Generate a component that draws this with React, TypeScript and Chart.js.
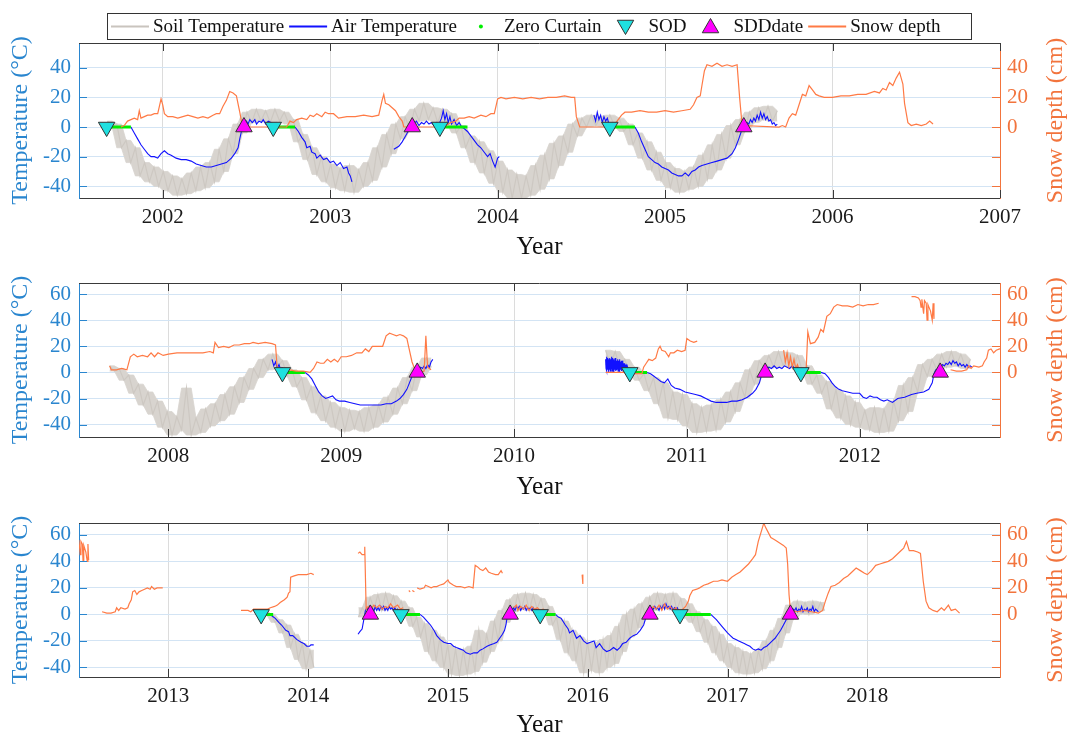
import React, { useEffect, useRef } from "react";
import { Chart, registerables } from "chart.js";

Chart.register(...registerables);

type Pair = [number, number] | null;
type Pt = { x: number; y: number | null };
type SoilSeg = { start: number; values: number[] };

const FONT = "'Liberation Serif', 'Times New Roman', Times, serif";
const BLUE_AXIS = "#2a86cf";
const ORANGE_AXIS = "#f2743d";
const SOIL_COLOR = "#cdc8c2";
const SOIL_FILL = "#d8d4cf";
const AIR_COLOR = "#1111ff";
const ZERO_COLOR = "#00ee00";
const SNOW_COLOR = "#ff7a45";
const SOD_COLOR = "#1fe0e0";
const SDD_COLOR = "#ff00ff";
const FRAME = "#3a3a3a";

// ---------------- tick labels ----------------
const years1 = [2002, 2003, 2004, 2005, 2006, 2007];
const years2 = [2008, 2009, 2010, 2011, 2012];
const years3 = [2013, 2014, 2015, 2016, 2017, 2018];
const tempTicks1 = [-40, -20, 0, 20, 40];
const tempTicks23 = [-40, -20, 0, 20, 40, 60];

// ---------------- soil temperature (10-day samples) ----------------
const SOIL_STEP = 1 / 36;
const soil1aStart = 2001.67;
const soil1a = [4, 0, 2, -14, -9, -24, -14, -33, -24, -37, -27, -40, -30, -43, -33, -46, -35, -45, -31, -43, -27, -41, -24, -37, -15, -30, -8, -18, 2, -4, 10, 3, 12, 4, 11, 3, 12, 4, 10, 2, 5, -10, -5, -22, -14, -32, -20, -37, -25, -41, -28, -43, -26, -44, -29, -40, -24, -36, -14, -27, -5, -18, 2, -8, 7, -2, 12, 4, 16, 5, 13, 3, 12, 2, 9, -4, 1, -14, -6, -24, -10, -31, -16, -38, -23, -44, -29, -48, -32, -48, -33, -46, -26, -42, -19, -35, -11, -26, -6, -17, 2, -6, 6, 0, 8, 1, 7, 0, 8, 1, 6, -3, 2, -12, -4, -21, -10, -29, -17, -36, -24, -41, -28, -44, -30, -42, -27, -40, -19, -35, -12, -29, -5, -21, 1, -12, 5, -3, 10, 3, 13, 5, 14, 4, 11];

const soil2aStart = 2007.66;
const soil2a = [5, 1, 3, -6, -2, -16, -9, -25, -15, -32, -22, -42, -30, -48, -34, -44, -12, -48, -35, -46, -28, -41, -24, -37, -17, -32, -11, -23, -4, -13, 3, -4, 10, 2, 14, 4, 9, -3, 2, -11, -4, -21, -11, -31, -18, -37, -23, -42, -27, -45, -29, -43, -30, -45, -27, -42, -25, -38, -19, -32, -12, -24, -4, -14, 4, -2, 11, 4];
const soil2bStart = 2010.53;
const soil2b = [17, 6, 16, 3, 10, -1, 4, -6, -1, -14, -4, -24, -8, -35, -15, -36, -17, -41, -24, -46, -27, -45, -25, -44, -21, -38, -15, -30, -8, -19, 2, -9, 9, 3, 13, 4, 16, 5, 15, 4, 13, 1, 5, -9, -2, -16, -7, -28, -13, -35, -18, -40, -23, -42, -29, -44, -27, -46, -28, -45, -22, -37, -10, -30, -4, -15, 6, -3, 10, 2, 14, 4, 16, 5, 14, 3, 10];

const soil3aStart = 2013.68;
const soil3a = [3, -1, 0, -6, -4, -14, -8, -25, -15, -34, -22, -41, -27, -40];
const soil3bStart = 2014.36;
const soil3b = [-2, 5, 0, 13, 4, 15, 3, 16, 5, 14, 3, 10, -1, 5, -9, -2, -17, -7, -28, -12, -35, -17, -40, -23, -45, -26, -46, -27, -45, -24, -43, -12, -36, -15, -28, -5, -20, 3, -6, 11, 2, 15, 4, 16, 3, 15, 4, 12, 0, 6, -8, -2, -19, -5, -29, -12, -35, -17, -44, -21, -42, -22, -44, -19, -40, -16, -37, -9, -28, 0, -17, 4, -10, 8, -2, 13, 3, 16, 5, 15, 4, 16, 3, 12, -2, 8, -6, 2, -13, -4, -21, -9, -29, -15, -35, -22, -40, -25, -44, -28, -45, -30, -44, -27, -41, -20, -35, -12, -25, -3, -14, 7, -3, 10, 1, 9, 0, 10, 2, 9, 3];

// ---------------- air temperature ----------------
const air1: Pair[] = [
  [2001.81, 0], [2001.83, -4], [2001.85, -8], [2001.87, -12], [2001.89, -15], [2001.91, -18], [2001.93, -20], [2001.95, -20], [2001.97, -21], [2001.99, -18], [2002.01, -16], [2002.03, -18], [2002.05, -19], [2002.08, -21], [2002.11, -22], [2002.14, -22], [2002.17, -23], [2002.2, -25], [2002.23, -26], [2002.26, -27], [2002.29, -27], [2002.32, -26], [2002.35, -25], [2002.38, -24], [2002.41, -21], [2002.43, -18], [2002.45, -14], [2002.46, -8], [2002.47, -3], [2002.48, 0],
  [2002.49, 2], [2002.5, 4], [2002.51, 2], [2002.52, 5], [2002.535, 3], [2002.55, 5], [2002.56, 2], [2002.575, 4], [2002.59, 3], [2002.6, 5], [2002.615, 2], [2002.63, 4], [2002.645, 3], [2002.66, 2],
  null,
  [2002.79, 0], [2002.81, -3], [2002.83, -7], [2002.85, -10], [2002.86, -14], [2002.88, -13], [2002.89, -17], [2002.91, -18], [2002.92, -21], [2002.94, -19], [2002.96, -22], [2002.98, -21], [2003.0, -24], [2003.02, -23], [2003.04, -26], [2003.06, -24], [2003.08, -28], [2003.1, -27], [2003.11, -31], [2003.12, -33], [2003.13, -37],
  null,
  [2003.38, -15], [2003.41, -13], [2003.43, -10], [2003.45, -6], [2003.47, -2], [2003.49, 1],
  [2003.5, 2], [2003.515, 4], [2003.53, 1], [2003.545, 3], [2003.56, 2], [2003.575, 4], [2003.59, 2], [2003.605, 3], [2003.62, 1], [2003.635, 3], [2003.65, 2], [2003.665, 6], [2003.675, 11], [2003.685, 5], [2003.695, 9], [2003.705, 3], [2003.715, 7], [2003.725, 2], [2003.74, 5], [2003.755, 1], [2003.77, 3], [2003.785, 0],
  [2003.8, -1], [2003.82, -3], [2003.84, -6], [2003.86, -9], [2003.88, -12], [2003.9, -14], [2003.92, -17], [2003.94, -20], [2003.955, -18], [2003.97, -23], [2003.985, -27], [2004.0, -21], [2004.01, -20],
  null,
  [2004.575, 8], [2004.585, 4], [2004.595, 10], [2004.605, 5], [2004.615, 8], [2004.625, 3], [2004.635, 7], [2004.645, 4], [2004.655, 6], [2004.665, 2],
  null,
  [2004.82, 0], [2004.84, -4], [2004.86, -10], [2004.88, -15], [2004.9, -20], [2004.92, -22], [2004.94, -24], [2004.96, -25], [2004.98, -27], [2005.0, -28], [2005.02, -29], [2005.04, -31], [2005.06, -32], [2005.08, -33], [2005.1, -33], [2005.12, -31], [2005.14, -33], [2005.16, -30], [2005.18, -29], [2005.2, -27], [2005.22, -26], [2005.25, -25], [2005.28, -24], [2005.31, -23], [2005.34, -22], [2005.37, -21], [2005.4, -18], [2005.42, -14], [2005.44, -8], [2005.455, -3], [2005.465, 0],
  [2005.475, 1], [2005.49, 3], [2005.5, 2], [2005.51, 5], [2005.52, 3], [2005.53, 6], [2005.54, 4], [2005.55, 8], [2005.56, 5], [2005.57, 10], [2005.58, 6], [2005.59, 9], [2005.6, 5], [2005.61, 7], [2005.62, 4], [2005.63, 5], [2005.64, 2], [2005.65, 3], [2005.66, 1], [2005.67, 2],
];

const air2: Pair[] = [
  [2008.6, 10], [2008.61, 5], [2008.62, 8], [2008.63, 3], [2008.64, 6], [2008.65, 2], [2008.66, 4],
  null,
  [2008.79, 0], [2008.81, -2], [2008.83, -5], [2008.85, -10], [2008.87, -15], [2008.89, -18], [2008.91, -20], [2008.93, -19], [2008.95, -18], [2008.97, -21], [2008.99, -22], [2009.02, -22], [2009.05, -23], [2009.08, -24], [2009.11, -25], [2009.14, -25], [2009.17, -25], [2009.2, -25], [2009.23, -25], [2009.26, -24], [2009.29, -24], [2009.32, -22], [2009.34, -20], [2009.36, -17], [2009.38, -13], [2009.395, -8], [2009.41, -3], [2009.43, 0],
  [2009.45, 2], [2009.46, 4], [2009.47, 3], [2009.48, 5], [2009.49, 3], [2009.5, 6], [2009.51, 4], [2009.52, 8], [2009.53, 10],
  null,
  [2010.53, 10], [2010.5325, 3], [2010.535, 12], [2010.5375, 1], [2010.54, 11], [2010.5425, 2], [2010.545, 10], [2010.5475, 0], [2010.55, 9], [2010.5525, 2], [2010.555, 11], [2010.5575, 1], [2010.56, 10], [2010.5625, 3], [2010.565, 12], [2010.5675, 1], [2010.57, 11], [2010.5725, 2], [2010.575, 10], [2010.5775, 0], [2010.58, 9], [2010.5825, 2], [2010.585, 11], [2010.5875, 1], [2010.59, 10], [2010.5925, 2], [2010.595, 9], [2010.5975, 3], [2010.6, 10], [2010.6025, 1], [2010.605, 9], [2010.6075, 2], [2010.61, 10], [2010.6125, 1], [2010.615, 8], [2010.6175, 2], [2010.62, 9], [2010.6225, 1], [2010.625, 8], [2010.6275, 2], [2010.63, 9], [2010.6325, 1], [2010.635, 7], [2010.6375, 2], [2010.64, 7], [2010.6425, 1], [2010.645, 6], [2010.6475, 2], [2010.65, 6], [2010.6525, 1], [2010.655, 5], [2010.66, 3],
  null,
  [2010.77, 0], [2010.79, -1], [2010.81, -3], [2010.83, -5], [2010.85, -7], [2010.87, -8], [2010.89, -5], [2010.91, -10], [2010.93, -12], [2010.96, -13], [2010.99, -15], [2011.02, -16], [2011.05, -17], [2011.08, -18], [2011.11, -20], [2011.14, -22], [2011.17, -23], [2011.2, -23], [2011.23, -23], [2011.26, -22], [2011.29, -22], [2011.32, -21], [2011.35, -19], [2011.38, -16], [2011.4, -13], [2011.42, -8], [2011.43, -3], [2011.44, 0],
  [2011.46, 3], [2011.475, 4], [2011.49, 3], [2011.505, 5], [2011.52, 3], [2011.535, 4], [2011.55, 3], [2011.565, 5], [2011.58, 4], [2011.595, 3], [2011.61, 5], [2011.625, 3], [2011.64, 4], [2011.655, 3],
  null,
  [2011.775, 0], [2011.8, -1], [2011.82, -4], [2011.84, -8], [2011.86, -11], [2011.88, -13], [2011.9, -14], [2011.93, -15], [2011.96, -16], [2012.0, -16], [2012.02, -19], [2012.04, -20], [2012.06, -18], [2012.08, -19], [2012.1, -19], [2012.12, -21], [2012.14, -22], [2012.16, -21], [2012.19, -23], [2012.22, -20], [2012.26, -19], [2012.3, -17], [2012.33, -16], [2012.37, -15], [2012.4, -13], [2012.42, -8], [2012.43, -1], [2012.44, 2],
  [2012.47, 4], [2012.48, 6], [2012.49, 5], [2012.5, 7], [2012.51, 6], [2012.52, 8], [2012.53, 6], [2012.54, 9], [2012.55, 7], [2012.56, 8], [2012.57, 5], [2012.58, 7], [2012.59, 5], [2012.6, 6], [2012.61, 4], [2012.62, 6], [2012.63, 4], [2012.64, 5], [2012.65, 4],
];

const air3: Pair[] = [
  [2013.74, -1], [2013.765, -3], [2013.79, -6], [2013.81, -8], [2013.84, -12], [2013.86, -13], [2013.87, -16], [2013.89, -16], [2013.92, -19], [2013.95, -21], [2013.97, -22], [2013.99, -24], [2014.01, -24], [2014.02, -23], [2014.04, -23],
  null,
  [2014.357, -15], [2014.37, -13], [2014.386, -11], [2014.4, -3], [2014.41, 3],
  [2014.42, 5], [2014.43, 3], [2014.44, 6], [2014.45, 3], [2014.46, 5], [2014.47, 2], [2014.48, 6], [2014.49, 3], [2014.5, 5], [2014.51, 3], [2014.52, 6], [2014.53, 4], [2014.54, 6], [2014.55, 3], [2014.56, 5], [2014.57, 3], [2014.58, 6], [2014.59, 4], [2014.6, 5], [2014.61, 3], [2014.62, 5], [2014.63, 3], [2014.64, 4], [2014.65, 2],
  null,
  [2014.8, 0], [2014.825, -2], [2014.85, -5], [2014.875, -8], [2014.9, -12], [2014.92, -16], [2014.945, -19], [2014.97, -21], [2015.0, -22], [2015.02, -22], [2015.04, -24], [2015.06, -25], [2015.085, -26], [2015.11, -27], [2015.13, -29], [2015.16, -30], [2015.185, -29], [2015.21, -29], [2015.23, -27], [2015.25, -26], [2015.28, -24], [2015.3, -23], [2015.33, -22], [2015.35, -21], [2015.37, -18], [2015.39, -15], [2015.405, -12], [2015.415, -8], [2015.425, -1],
  [2015.46, 3], [2015.47, 5], [2015.48, 3], [2015.49, 6], [2015.5, 4], [2015.51, 6], [2015.52, 3], [2015.53, 5], [2015.54, 4], [2015.55, 6], [2015.56, 3], [2015.57, 5], [2015.58, 4], [2015.59, 5], [2015.6, 3], [2015.61, 5], [2015.62, 3], [2015.63, 4], [2015.64, 3], [2015.65, 4],
  null,
  [2015.77, 0], [2015.79, -2], [2015.81, -3], [2015.84, -8], [2015.86, -11], [2015.87, -14], [2015.895, -12], [2015.92, -18], [2015.945, -16], [2015.97, -20], [2015.995, -22], [2016.02, -21], [2016.045, -20], [2016.06, -25], [2016.085, -22], [2016.11, -26], [2016.135, -28], [2016.16, -27], [2016.185, -25], [2016.21, -27], [2016.23, -25], [2016.25, -22], [2016.275, -21], [2016.3, -18], [2016.325, -16], [2016.35, -15], [2016.375, -12], [2016.4, -8], [2016.42, -1],
  [2016.45, 3], [2016.46, 5], [2016.47, 4], [2016.48, 6], [2016.49, 4], [2016.5, 5], [2016.51, 3], [2016.52, 6], [2016.53, 4], [2016.54, 7], [2016.55, 4], [2016.56, 8], [2016.57, 5], [2016.58, 6], [2016.59, 4], [2016.6, 6], [2016.61, 3], [2016.62, 5], [2016.63, 4], [2016.64, 5], [2016.65, 3],
  null,
  [2016.88, 0], [2016.92, -4], [2016.96, -9], [2017.0, -14], [2017.02, -16], [2017.04, -18], [2017.06, -19], [2017.08, -20], [2017.1, -21], [2017.12, -22], [2017.14, -23], [2017.16, -24], [2017.18, -26], [2017.2, -27], [2017.22, -26], [2017.24, -27], [2017.26, -25], [2017.28, -24], [2017.3, -22], [2017.32, -20], [2017.34, -18], [2017.36, -15], [2017.38, -12], [2017.4, -8], [2017.42, -4], [2017.44, 0],
  [2017.46, 2], [2017.47, 4], [2017.48, 3], [2017.49, 5], [2017.5, 2], [2017.51, 4], [2017.52, 3], [2017.53, 6], [2017.54, 2], [2017.55, 4], [2017.56, 3], [2017.57, 5], [2017.58, 2], [2017.59, 4], [2017.6, 3], [2017.61, 6], [2017.62, 2], [2017.63, 4], [2017.64, 3], [2017.65, 2],
];

// ---------------- zero curtain periods [start, end] ----------------
const zero1: [number, number][] = [[2001.67, 2001.81], [2002.66, 2002.79], [2003.66, 2003.82], [2004.67, 2004.82]];
const zero2: [number, number][] = [[2008.66, 2008.79], [2010.67, 2010.77], [2011.66, 2011.775]];
const zero3: [number, number][] = [[2013.67, 2013.75], [2014.67, 2014.8], [2015.66, 2015.77], [2016.66, 2016.88]];

// ---------------- SOD / SDD markers ----------------
const sod1: [number, number][] = [[2001.665, 0], [2002.66, 0], [2003.655, 0], [2004.67, 0]];
const sdd1: [number, number][] = [[2002.485, 0], [2003.49, 0], [2005.47, 0]];
const sod2: [number, number][] = [[2008.66, 0], [2010.67, 0], [2011.66, 0]];
const sdd2: [number, number][] = [[2009.44, 0], [2011.453, 0], [2012.466, 0]];
const sod3: [number, number][] = [[2013.664, 0], [2014.664, 0], [2015.66, 0], [2016.66, 0]];
const sdd3: [number, number][] = [[2014.445, 0], [2015.445, 0], [2016.445, 0], [2017.45, 0]];

// ---------------- snow depth (cm), whole record ----------------
const snowDepth: Pair[] = [
  [2001.75, 0], [2001.77, 1], [2001.79, 4], [2001.81, 5], [2001.83, 6], [2001.85, 5], [2001.86, 11], [2001.87, 6], [2001.89, 7], [2001.91, 8], [2001.93, 8], [2001.95, 9], [2001.97, 9], [2001.98, 14], [2001.99, 19], [2002.0, 15], [2002.01, 9], [2002.03, 7], [2002.06, 7], [2002.09, 6], [2002.12, 7], [2002.15, 8], [2002.18, 7], [2002.21, 6], [2002.24, 7], [2002.27, 6], [2002.3, 8], [2002.32, 9], [2002.34, 9], [2002.36, 14], [2002.38, 18], [2002.4, 24], [2002.42, 23], [2002.44, 21], [2002.46, 10], [2002.475, 1], [2002.49, 0], [2002.74, 0], [2002.76, 4], [2002.78, 3], [2002.8, 5], [2002.83, 6], [2002.86, 5], [2002.88, 8], [2002.9, 7], [2002.92, 9], [2002.95, 7], [2002.97, 10], [2002.99, 9], [2003.02, 9], [2003.05, 6], [2003.1, 7], [2003.15, 7], [2003.2, 8], [2003.25, 7], [2003.29, 8], [2003.31, 18], [2003.32, 22], [2003.33, 16], [2003.35, 15], [2003.37, 13], [2003.39, 11], [2003.41, 7], [2003.43, 4], [2003.44, 0], [2003.68, 0], [2003.72, 3], [2003.75, 4], [2003.77, 6], [2003.8, 6], [2003.83, 7], [2003.86, 6], [2003.9, 8], [2003.93, 7], [2003.96, 9], [2003.98, 9], [2004.0, 19], [2004.02, 20], [2004.05, 19], [2004.1, 20], [2004.15, 19], [2004.2, 20], [2004.25, 19], [2004.3, 20], [2004.35, 20], [2004.4, 21], [2004.44, 20], [2004.46, 20], [2004.47, 7], [2004.49, 0], [2004.68, 0], [2004.7, 2], [2004.72, 5], [2004.74, 8], [2004.76, 10], [2004.8, 10], [2004.85, 11], [2004.9, 10], [2004.95, 10], [2005.0, 11], [2005.05, 10], [2005.1, 11], [2005.15, 12], [2005.17, 15], [2005.19, 20], [2005.21, 21], [2005.22, 28], [2005.235, 38], [2005.25, 42], [2005.28, 41], [2005.31, 43], [2005.34, 41], [2005.37, 42], [2005.4, 41], [2005.43, 42], [2005.445, 20], [2005.46, 1], [2005.68, 0], [2005.7, 1], [2005.72, 0], [2005.74, 6], [2005.76, 9], [2005.78, 8], [2005.8, 15], [2005.82, 22], [2005.84, 21], [2005.86, 28], [2005.88, 25], [2005.9, 22], [2005.92, 21], [2005.95, 20], [2006.0, 20], [2006.05, 21], [2006.1, 21], [2006.15, 22], [2006.2, 22], [2006.25, 24], [2006.28, 23], [2006.3, 26], [2006.32, 25], [2006.34, 30], [2006.36, 28], [2006.38, 33], [2006.4, 37], [2006.42, 29], [2006.43, 16], [2006.45, 3], [2006.47, 1], [2006.5, 2], [2006.53, 1], [2006.56, 2], [2006.58, 4], [2006.6, 2],
  null,
  [2007.66, 5], [2007.67, 2], [2007.7, 2], [2007.73, 3], [2007.76, 2], [2007.78, 12], [2007.8, 14], [2007.82, 12], [2007.85, 13], [2007.88, 12], [2007.9, 15], [2007.92, 12], [2007.94, 15], [2007.97, 13], [2008.0, 14], [2008.05, 15], [2008.1, 15], [2008.15, 15], [2008.2, 15], [2008.24, 16], [2008.26, 15], [2008.27, 23], [2008.29, 19], [2008.32, 20], [2008.35, 19], [2008.38, 21], [2008.41, 21], [2008.44, 22], [2008.47, 22], [2008.49, 23], [2008.52, 22], [2008.56, 23], [2008.6, 22], [2008.62, 21], [2008.63, 3], [2008.66, 2], [2008.7, 2], [2008.74, 1], [2008.78, 1], [2008.82, 0], [2008.84, 3], [2008.86, 8], [2008.88, 7], [2008.9, 7], [2008.92, 10], [2008.94, 8], [2008.96, 10], [2008.98, 8], [2009.0, 12], [2009.03, 12], [2009.06, 13], [2009.09, 15], [2009.12, 15], [2009.14, 18], [2009.16, 16], [2009.18, 20], [2009.21, 20], [2009.24, 20], [2009.26, 28], [2009.28, 30], [2009.3, 29], [2009.32, 28], [2009.34, 29], [2009.36, 28], [2009.38, 26], [2009.39, 20], [2009.41, 8], [2009.43, 1], [2009.46, 0], [2009.48, 1], [2009.49, 28], [2009.5, 4], [2009.52, 2],
  null,
  [2010.53, 0], [2010.6, 0], [2010.65, 0], [2010.7, -1], [2010.74, -1], [2010.75, 4], [2010.765, 7], [2010.78, 10], [2010.8, 9], [2010.82, 11], [2010.835, 18], [2010.845, 20], [2010.855, 17], [2010.875, 16], [2010.895, 12], [2010.905, 15], [2010.925, 15], [2010.945, 17], [2010.97, 16], [2010.99, 17], [2011.0, 26], [2011.02, 24], [2011.04, 23], [2011.06, 24],
  null,
  [2011.56, 17], [2011.57, 8], [2011.58, 15], [2011.59, 5], [2011.6, 12], [2011.61, 4], [2011.62, 10], [2011.63, 3], [2011.64, 6], [2011.65, 2], [2011.67, 3], [2011.69, 1], [2011.7, 31], [2011.715, 22], [2011.74, 23], [2011.76, 27], [2011.775, 33], [2011.79, 31], [2011.81, 43], [2011.83, 45], [2011.85, 50], [2011.87, 52], [2011.9, 51], [2011.93, 51], [2011.96, 50], [2011.99, 52], [2012.02, 51], [2012.05, 52], [2012.08, 52], [2012.11, 53],
  null,
  [2012.3, 58], [2012.32, 58], [2012.34, 57], [2012.35, 55], [2012.355, 50], [2012.36, 56], [2012.37, 45], [2012.375, 55], [2012.385, 53], [2012.39, 40], [2012.395, 52], [2012.41, 47], [2012.42, 40], [2012.425, 53], [2012.43, 41],
  null,
  [2012.526, 2], [2012.56, 1], [2012.59, 1], [2012.62, 2], [2012.63, 5], [2012.645, 3], [2012.66, 5], [2012.69, 4], [2012.71, 5], [2012.72, 8], [2012.735, 11], [2012.745, 17], [2012.76, 18], [2012.775, 15], [2012.79, 17], [2012.81, 18], [2012.83, 19], [2012.85, 20], [2012.87, 19], [2012.88, 21], [2012.9, 19], [2012.92, 20], [2012.95, 20], [2012.96, 20],
  null,
  [2013.52, 3], [2013.54, 3], [2013.57, 3], [2013.59, 2], [2013.61, 4], [2013.64, 4], [2013.67, 4], [2013.71, 4], [2013.73, 5], [2013.76, 6], [2013.78, 7], [2013.8, 9], [2013.83, 11], [2013.85, 13], [2013.86, 16], [2013.87, 17], [2013.875, 28], [2013.9, 29], [2013.93, 30], [2013.96, 30], [2013.99, 30], [2014.02, 31], [2014.04, 30],
  null,
  [2014.357, 46], [2014.37, 47], [2014.386, 45], [2014.4, 45], [2014.405, 51], [2014.415, 4], [2014.43, 6], [2014.45, 4], [2014.47, 7], [2014.49, 5], [2014.51, 7], [2014.53, 4], [2014.55, 6], [2014.57, 5], [2014.59, 8], [2014.61, 5], [2014.64, 7], [2014.66, 4], [2014.68, 5],
  null,
  [2014.72, 18], [2014.73, 17],
  null,
  [2014.745, 18], [2014.76, 17],
  null,
  [2014.78, 20], [2014.8, 19], [2014.83, 20], [2014.84, 22], [2014.86, 21], [2014.88, 20], [2014.9, 21], [2014.92, 21], [2014.94, 22], [2014.97, 23], [2015.0, 26], [2015.01, 24], [2015.04, 22], [2015.06, 21], [2015.09, 21], [2015.12, 20], [2015.15, 21], [2015.18, 20], [2015.195, 37], [2015.21, 36], [2015.23, 34], [2015.25, 33], [2015.27, 35], [2015.29, 32], [2015.31, 31], [2015.34, 30], [2015.36, 30], [2015.38, 33], [2015.39, 31],
  null,
  [2015.47, 5], [2015.49, 7], [2015.5, 3], [2015.52, 6], [2015.54, 4], [2015.56, 7], [2015.58, 3], [2015.6, 6], [2015.62, 4], [2015.64, 5], [2015.66, 3], [2015.68, 4], [2015.7, 3],
  null,
  [2015.96, 30], [2015.965, 23],
  null,
  [2016.45, 3], [2016.47, 6], [2016.49, 4], [2016.51, 7], [2016.53, 3], [2016.55, 8], [2016.57, 4], [2016.59, 6], [2016.61, 3], [2016.63, 5], [2016.65, 2], [2016.67, 3], [2016.7, 6], [2016.72, 10], [2016.73, 14], [2016.75, 18], [2016.78, 19], [2016.8, 20], [2016.83, 22], [2016.86, 23], [2016.9, 25], [2016.93, 25], [2016.96, 26], [2017.0, 25], [2017.03, 28], [2017.06, 30], [2017.09, 32], [2017.12, 35], [2017.15, 38], [2017.18, 42], [2017.2, 45], [2017.22, 55], [2017.24, 62], [2017.26, 69], [2017.27, 66], [2017.29, 62], [2017.31, 58], [2017.34, 56], [2017.37, 54], [2017.4, 52], [2017.42, 50], [2017.43, 38], [2017.44, 15], [2017.45, 3], [2017.5, 2], [2017.55, 3], [2017.6, 2], [2017.65, 1], [2017.68, 3], [2017.7, 10], [2017.72, 16], [2017.74, 21], [2017.77, 22], [2017.8, 24], [2017.83, 27], [2017.86, 29], [2017.89, 32], [2017.92, 35], [2017.95, 33], [2017.98, 31], [2018.0, 30], [2018.03, 33], [2018.06, 37], [2018.09, 38], [2018.12, 39], [2018.15, 40], [2018.18, 42], [2018.21, 45], [2018.24, 48], [2018.26, 50], [2018.28, 55], [2018.3, 48], [2018.33, 48], [2018.36, 47], [2018.38, 46], [2018.4, 25], [2018.42, 10], [2018.44, 5], [2018.47, 3], [2018.5, 2], [2018.53, 5], [2018.55, 3], [2018.58, 7], [2018.6, 3], [2018.63, 4], [2018.66, 1],
];

// ---------------- legend ----------------
const legendItems = [
  { label: "Soil Temperature", kind: "line", color: "#c9c4be" },
  { label: "Air Temperature", kind: "line", color: AIR_COLOR },
  { label: "Zero Curtain", kind: "dot", color: ZERO_COLOR },
  { label: "SOD", kind: "down", color: SOD_COLOR },
  { label: "SDDdate", kind: "up", color: SDD_COLOR },
  { label: "Snow depth", kind: "line", color: SNOW_COLOR },
];

// ---------------- helpers ----------------
function pairsToPoints(pairs: Pair[]): Pt[] {
  const out: Pt[] = [];
  let lastX = 0;
  for (const p of pairs) {
    if (p === null) out.push({ x: lastX, y: null });
    else {
      out.push({ x: p[0], y: p[1] });
      lastX = p[0];
    }
  }
  return out;
}

function soilPoints(segs: SoilSeg[]): Pt[] {
  const out: Pt[] = [];
  segs.forEach((s, k) => {
    if (k > 0) out.push({ x: s.start, y: null });
    s.values.forEach((v, i) => out.push({ x: s.start + i * SOIL_STEP, y: v }));
  });
  return out;
}

// envelope of neighbouring readings (upper or lower edge of the noisy band)
function soilEdge(segs: SoilSeg[], upper: boolean): Pt[] {
  const out: Pt[] = [];
  segs.forEach((s, k) => {
    if (k > 0) out.push({ x: s.start, y: null });
    const n = s.values.length;
    s.values.forEach((v, i) => {
      const a = s.values[Math.max(0, i - 1)];
      const b = s.values[Math.min(n - 1, i + 1)];
      out.push({ x: s.start + i * SOIL_STEP, y: upper ? Math.max(a, v, b) : Math.min(a, v, b) });
    });
  });
  return out;
}

function zeroPoints(segs: [number, number][]): Pt[] {
  const out: Pt[] = [];
  segs.forEach(([a, b]) => {
    out.push({ x: a, y: 0 }, { x: b, y: 0 }, { x: b, y: null });
  });
  return out;
}

function drawTri(ctx: CanvasRenderingContext2D, cx: number, cy: number, r: number, down: boolean, fill: string) {
  const s = down ? -1 : 1;
  const h = Math.sin(Math.PI / 3) * r;
  ctx.beginPath();
  ctx.moveTo(cx, cy - s * r);
  ctx.lineTo(cx + h, cy + (s * r) / 2);
  ctx.lineTo(cx - h, cy + (s * r) / 2);
  ctx.closePath();
  ctx.fillStyle = fill;
  ctx.fill();
  ctx.strokeStyle = "#333";
  ctx.lineWidth = 1;
  ctx.stroke();
}

function drawLegend(ctx: CanvasRenderingContext2D) {
  ctx.save();
  ctx.fillStyle = "#fff";
  ctx.fillRect(107.5, 13.5, 864, 26);
  ctx.strokeStyle = "#333";
  ctx.lineWidth = 1;
  ctx.strokeRect(107.5, 13.5, 864, 26);
  ctx.font = `19px ${FONT}`;
  ctx.textBaseline = "middle";
  ctx.textAlign = "left";
  let x = 110;
  const cy = 26.5;
  for (const it of legendItems) {
    const cx = x + 20;
    if (it.kind === "line") {
      ctx.strokeStyle = it.color;
      ctx.lineWidth = 2;
      ctx.beginPath();
      ctx.moveTo(x + 1, cy);
      ctx.lineTo(x + 39, cy);
      ctx.stroke();
    } else if (it.kind === "dot") {
      ctx.fillStyle = it.color;
      ctx.beginPath();
      ctx.arc(cx, cy, 2, 0, Math.PI * 2);
      ctx.fill();
    } else {
      drawTri(ctx, cx, it.kind === "down" ? cy - 1.5 : cy + 1.5, 9.5, it.kind === "down", it.color);
    }
    x += 43;
    ctx.fillStyle = "#111";
    ctx.fillText(it.label, x, cy + 1);
    x += ctx.measureText(it.label).width + 4;
  }
  ctx.restore();
}

const decorPlugin = {
  id: "decor",
  afterDraw(chart: any, _args: any, opts: any) {
    const { ctx, chartArea: a, scales } = chart;
    ctx.save();
    ctx.lineWidth = 1;
    const seg = (x1: number, y1: number, x2: number, y2: number, color: string) => {
      ctx.strokeStyle = color;
      ctx.beginPath();
      ctx.moveTo(x1, y1);
      ctx.lineTo(x2, y2);
      ctx.stroke();
    };
    const top = Math.round(a.top) + 0.5;
    seg(a.left, top, a.right, top, FRAME);
    for (const t of scales.x.ticks) {
      const px = Math.round(scales.x.getPixelForValue(t.value)) + 0.5;
      seg(px, a.bottom, px, a.bottom - 8, FRAME);
      seg(px, a.top, px, a.top + 8, FRAME);
    }
    for (const t of scales.y.ticks) {
      const py = Math.round(scales.y.getPixelForValue(t.value)) + 0.5;
      seg(a.left, py, a.left + 8, py, BLUE_AXIS);
    }
    for (const t of scales.y2.ticks) {
      const py = Math.round(scales.y2.getPixelForValue(t.value)) + 0.5;
      seg(a.right - 8, py, a.right, py, ORANGE_AXIS);
    }
    ctx.translate(1056, (a.top + a.bottom) / 2);
    ctx.rotate(-Math.PI / 2);
    ctx.font = `24px ${FONT}`;
    ctx.fillStyle = ORANGE_AXIS;
    ctx.textAlign = "center";
    ctx.textBaseline = "middle";
    ctx.fillText("Snow depth (cm)", 0, 0);
    ctx.restore();
    if (opts && opts.legend) drawLegend(ctx);
  },
};

type PanelSpec = {
  top: number;
  height: number;
  padTop: number;
  xHeight: number;
  xMin: number;
  xMax: number;
  yMin: number;
  yMax: number;
  xTicks: number[];
  yTicks: number[];
  soil: SoilSeg[];
  air: Pair[];
  zero: [number, number][];
  sod: [number, number][];
  sdd: [number, number][];
  legend: boolean;
  yearPad: number;
};

const panels: PanelSpec[] = [
  {
    top: 0, height: 262, padTop: 43, xHeight: 64,
    xMin: 2001.5, xMax: 2007, yMin: -47.9, yMax: 56.7,
    xTicks: years1, yTicks: tempTicks1,
    soil: [{ start: soil1aStart, values: soil1a }],
    air: air1, zero: zero1, sod: sod1, sdd: sdd1, legend: true, yearPad: 0,
  },
  {
    top: 262, height: 240, padTop: 21, xHeight: 65,
    xMin: 2007.483, xMax: 2012.812, yMin: -49.5, yMax: 68.5,
    xTicks: years2, yTicks: tempTicks23,
    soil: [{ start: soil2aStart, values: soil2a }, { start: soil2bStart, values: soil2b }],
    air: air2, zero: zero2, sod: sod2, sdd: sdd2, legend: false, yearPad: 0,
  },
  {
    top: 502, height: 233, padTop: 21, xHeight: 58,
    xMin: 2012.361, xMax: 2018.949, yMin: -47.2, yMax: 68.9,
    xTicks: years3, yTicks: tempTicks23,
    soil: [{ start: soil3aStart, values: soil3a }, { start: soil3bStart, values: soil3b }],
    air: air3, zero: zero3, sod: sod3, sdd: sdd3, legend: false, yearPad: -5,
  },
];

function buildConfig(s: PanelSpec): any {
  const tickFont = { family: FONT, size: 21 };
  const setTicks = (vals: number[]) => (scale: any) => {
    scale.ticks = vals.map((v) => ({ value: v }));
  };
  return {
    type: "line",
    data: {
      datasets: [
        {
          label: "SDDdate", data: s.sdd.map(([x, y]) => ({ x, y })), showLine: false,
          pointStyle: "triangle", pointRadius: 9.5, pointRotation: 0,
          pointBackgroundColor: SDD_COLOR, backgroundColor: SDD_COLOR,
          pointBorderColor: "#333", pointBorderWidth: 1, yAxisID: "y", order: 0,
        },
        {
          label: "SOD", data: s.sod.map(([x, y]) => ({ x, y })), showLine: false,
          pointStyle: "triangle", pointRadius: 9.5, pointRotation: 180,
          pointBackgroundColor: SOD_COLOR, backgroundColor: SOD_COLOR,
          pointBorderColor: "#333", pointBorderWidth: 1, yAxisID: "y", order: 1,
        },
        {
          label: "Snow depth", data: pairsToPoints(snowDepth), borderColor: SNOW_COLOR,
          borderWidth: 1.2, pointRadius: 0, yAxisID: "y2", order: 2, spanGaps: false,
        },
        {
          label: "Zero Curtain", data: zeroPoints(s.zero), borderColor: ZERO_COLOR,
          borderWidth: 3, pointRadius: 0, yAxisID: "y", order: 3, spanGaps: false,
        },
        {
          label: "Air Temperature", data: pairsToPoints(s.air), borderColor: AIR_COLOR,
          borderWidth: 1.1, pointRadius: 0, yAxisID: "y", order: 4, spanGaps: false,
        },
        {
          label: "Soil Temperature", data: soilPoints(s.soil), borderColor: SOIL_COLOR,
          borderWidth: 1.2, pointRadius: 0, yAxisID: "y", order: 5, spanGaps: false,
        },
        {
          label: "soil upper", data: soilEdge(s.soil, true), borderColor: SOIL_FILL,
          borderWidth: 0.8, pointRadius: 0, yAxisID: "y", order: 6, spanGaps: false,
          backgroundColor: SOIL_FILL, fill: "+1",
        },
        {
          label: "soil lower", data: soilEdge(s.soil, false), borderColor: SOIL_FILL,
          borderWidth: 0.8, pointRadius: 0, yAxisID: "y", order: 7, spanGaps: false, fill: false,
        },
      ],
    },
    options: {
      animation: false,
      responsive: false,
      maintainAspectRatio: false,
      events: [],
      layout: { padding: { top: s.padTop, left: 0, right: 0, bottom: 0 } },
      plugins: { legend: { display: false }, tooltip: { enabled: false }, decor: { legend: s.legend } },
      scales: {
        x: {
          type: "linear", position: "bottom", min: s.xMin, max: s.xMax, bounds: "data",
          afterBuildTicks: setTicks(s.xTicks),
          afterFit: (sc: any) => { sc.height = s.xHeight; },
          ticks: { font: tickFont, color: "#1a1a1a", padding: 7, maxRotation: 0, autoSkip: false, callback: (v: any) => String(v) },
          grid: { color: "#dcdcdc", drawTicks: false },
          border: { color: FRAME, width: 1 },
          title: { display: true, text: "Year", color: "#111", font: { family: FONT, size: 25 }, padding: { top: 0, bottom: s.yearPad } },
        },
        y: {
          type: "linear", position: "left", min: s.yMin, max: s.yMax, bounds: "data",
          afterBuildTicks: setTicks(s.yTicks),
          afterFit: (sc: any) => { sc.width = 79; },
          ticks: { font: tickFont, color: BLUE_AXIS, padding: 8, callback: (v: any) => String(v) },
          grid: { color: "#d3e4f4", drawTicks: false },
          border: { color: BLUE_AXIS, width: 1 },
          title: { display: true, text: "Temperature (°C)", color: BLUE_AXIS, font: { family: FONT, size: 24 }, padding: { top: 6, bottom: 0 } },
        },
        y2: {
          type: "linear", position: "right", min: s.yMin, max: s.yMax, bounds: "data",
          afterBuildTicks: setTicks(s.yTicks),
          afterFit: (sc: any) => { sc.width = 70; },
          ticks: { font: tickFont, color: ORANGE_AXIS, padding: 7, callback: (v: any) => (v >= 0 ? String(v) : "") },
          grid: { drawOnChartArea: false, drawTicks: false },
          border: { color: ORANGE_AXIS, width: 1 },
        },
      },
    },
    plugins: [decorPlugin],
  };
}

function Panel({ spec }: { spec: PanelSpec }) {
  const ref = useRef<HTMLCanvasElement>(null);
  useEffect(() => {
    if (!ref.current) return;
    const chart = new Chart(ref.current, buildConfig(spec));
    return () => chart.destroy();
  }, [spec]);
  return (
    <canvas
      ref={ref}
      width={1070}
      height={spec.height}
      style={{ position: "absolute", left: 0, top: spec.top, width: 1070, height: spec.height, display: "block" }}
    />
  );
}

export default function App() {
  return (
    <div style={{ position: "absolute", left: 0, top: 0, width: 1070, height: 735, overflow: "hidden", background: "#fff" }}>
      {panels.map((p, i) => (
        <Panel key={i} spec={p} />
      ))}
    </div>
  );
}
